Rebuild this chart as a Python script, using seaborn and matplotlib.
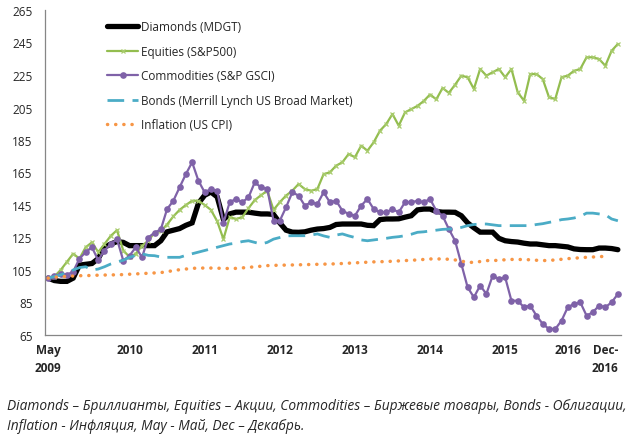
import numpy as np
import pandas as pd
import matplotlib
matplotlib.use("Agg")
import matplotlib.pyplot as plt
import seaborn as sns

# ---------------- data (monthly, May 2009 .. Dec 2016) ----------------
months = pd.date_range("2009-05-01", "2016-12-01", freq="MS")

diamonds = [100, 98.5, 98, 98, 100, 108, 108.5, 109, 112, 119,
            121, 122.5, 122, 120, 120, 120, 120, 120, 123, 128.5,
            129.5, 130.5, 132.5, 134, 146, 151, 153, 150, 136, 139.5,
            140.6, 140.6, 140.6, 140, 139.5, 139.5, 139.2, 134, 129.5, 128.3,
            128.2, 128.5, 129.5, 130.2, 130.5, 131.2, 133, 133.3, 133.3, 133.3,
            133.3, 132.5, 132.3, 136, 136.4, 136.4, 136.5, 137.5, 138.4, 142,
            142.5, 142.5, 141, 140.6, 140.6, 140.5, 138.4, 134, 131, 128.3,
            128.3, 128.3, 124.5, 123, 122.5, 122.2, 121.5, 121, 121, 120.5,
            120, 120, 119.6, 119.2, 118, 117.6, 117.5, 117.5, 118.5, 118.5,
            118.2, 117.5]

equities = [100, 101, 105, 110, 115, 112, 119, 122, 116, 121,
            126, 129.5, 117, 113, 115, 120, 123, 128, 129, 133,
            138, 142, 145, 147.6, 147.6, 145, 142, 135, 124, 137.5,
            136.4, 137.5, 143, 148, 151, 153.8, 142, 146.7, 150.8, 153.8,
            157.9, 154.8, 153.8, 154.8, 164, 165.1, 169.2, 171.3, 176.4, 174.4,
            181.5, 178.4, 183.6, 190.7, 194.8, 201, 193.8, 202, 204, 206,
            209, 213, 210, 217, 214, 219, 224.6, 223.6, 216.4, 228.7,
            224.6, 226.7, 228.7, 223.6, 228.7, 214.4, 209.2, 225.6, 225.6, 222.5,
            211.3, 210.2, 223.6, 224.6, 227.6, 228.7, 235.9, 235.9, 234.8, 230.7,
            239.9, 244.1]

commodities = [100, 101.5, 102.5, 102, 104, 112, 116, 119, 111, 117,
               121, 124, 110.8, 113.8, 119, 112.8, 125, 128, 130, 142.5,
               147.6, 155.9, 164, 171.3, 160, 152.8, 154.8, 153.8, 134, 146.7,
               148.7, 146.7, 149.7, 158.9, 155.9, 155, 135.3, 135.3, 143.6, 152.8,
               150.8, 144.6, 146.7, 145.6, 152.8, 146.7, 147.6, 141.5, 139.5, 138.4,
               144.6, 148.7, 142.5, 140.5, 140.5, 142.5, 140.5, 146.7, 146.7, 147.6,
               146.7, 148.7, 141.5, 138.4, 130.2, 123, 108.7, 94.4, 88.2, 95.4,
               90.3, 101.5, 99.5, 100.5, 86.1, 86.1, 82.1, 83.1, 76.9, 71.8,
               68.7, 68.7, 73.8, 82.1, 84.1, 85.1, 76.9, 79, 83.1, 82.1,
               85.1, 90.2]

bonds = [100, 101, 102, 103.5, 105, 106.5, 107, 105, 105.6, 107,
         108.7, 110, 111, 112.8, 114, 115, 114, 113.8, 113, 112.8,
         112.8, 112.8, 114, 115, 116, 117, 118, 119, 120, 121,
         121.5, 122.5, 123, 122, 121, 122, 124, 125, 126, 126.1,
         126.1, 126.1, 126.5, 127.2, 126, 125.1, 126.5, 127.2, 126, 125,
         123.5, 123, 123.5, 124, 124.5, 125.1, 125.5, 126.1, 127, 128.2,
         128.5, 129, 129.5, 130, 130.2, 130.5, 131.2, 132.3, 133, 133.3,
         133.3, 132.8, 132.3, 132.3, 132.3, 132.3, 132.3, 132.3, 133, 133.5,
         134.3, 135, 136, 136.4, 137, 138, 140, 140, 139.5, 139,
         136.4, 135.3]

inflation = [100, 100.5, 101, 101, 101.3, 101.5, 101.5, 101.7, 101.8, 101.9,
             102, 102, 102.2, 102.4, 102.6, 102.8, 103, 103.2, 103.4, 104,
             104.6, 105.2, 105.6, 106, 106.2, 106.2, 106.2, 106.1, 106, 105.9,
             106, 106.3, 106.6, 107, 107.3, 107.7, 107.8, 108, 108, 108.1,
             108.2, 108.3, 108.4, 108.5, 108.6, 108.7, 108.8, 109, 109.2, 109.4,
             109.6, 109.8, 110, 110.1, 110.2, 110.4, 110.6, 110.8, 111, 111.2,
             111.5, 111.8, 111.8, 111.8, 111.6, 111.2, 110.5, 109.7, 109.7, 110.2,
             110.8, 110.8, 111, 111.3, 111.5, 111.5, 111.4, 111.3, 111, 110.8,
             110.9, 111.2, 111.6, 112, 112.2, 112.6, 112.8, 113, 113.2, 113.4,
             np.nan, np.nan]

series_labels = ["Diamonds (MDGT)", "Equities (S&P500)", "Commodities (S&P GSCI)",
                 "Bonds (Merrill Lynch US Broad Market)", "Inflation (US CPI)"]

x_labels = ["May\n2009", "2010", "2011", "2012", "2013", "2014", "2015", "2016", "Dec-\n2016"]
x_label_months = ["2009-05", "2010-06", "2011-06", "2012-06", "2013-06",
                  "2014-06", "2015-06", "2016-04", "2016-10"]
y_ticks = [65, 85, 105, 125, 145, 165, 185, 205, 225, 245, 265]

caption_1 = ("Diamonds – Бриллианты, Equities – Акции, Commodities – Биржевые товары, "
             "Bonds - Облигации,")
caption_2 = "Inflation - Инфляция, May - Май, Dec – Декабрь."

# ---------------- figure ----------------
sns.set_theme(style="white")
plt.rcParams['font.family'] = ['Open Sans', 'DejaVu Sans']

df = pd.DataFrame({
    "idx": np.arange(len(months)),
    "diamonds": diamonds,
    "equities": equities,
    "commodities": commodities,
    "bonds": bonds,
    "inflation": inflation,
})

fig = plt.figure(figsize=(6.39, 4.39), dpi=100)
ax = fig.add_axes([45 / 639, 103 / 439, 576 / 639, 325 / 439])

sns.lineplot(data=df, x="idx", y="diamonds", ax=ax, color="black", lw=3.8,
             label=series_labels[0], solid_joinstyle="miter")
sns.lineplot(data=df, x="idx", y="equities", ax=ax, color="#93BD4F", lw=1.6,
             marker="x", markersize=3.5, markeredgewidth=0.9,
             markeredgecolor="#A9CC6E", label=series_labels[1])
sns.lineplot(data=df, x="idx", y="commodities", ax=ax, color="#7F62A8", lw=1.6,
             marker="o", markersize=4.8, markeredgewidth=0,
             markeredgecolor="#7F62A8", label=series_labels[2])
sns.lineplot(data=df, x="idx", y="bonds", ax=ax, color="#4BACC6", lw=2.0,
             linestyle=(0, (6, 3)), label=series_labels[3])
sns.lineplot(data=df, x="idx", y="inflation", ax=ax, color="#F79646", lw=2.5,
             linestyle=(0, (0.05, 2.3)), dash_capstyle="round",
             label=series_labels[4])

ax.set_xlim(-0.5, len(months) - 0.5)
ax.set_ylim(65, 265)
ax.set_xlabel("")
ax.set_ylabel("")

# y axis
ax.set_yticks(y_ticks)
ax.tick_params(axis="y", direction="out", length=4, width=0.8, color="#868686",
               labelsize=8.5, labelcolor="#262626", pad=5)

# x axis: tick marks at year boundaries, labels placed separately
month_index = {m.strftime("%Y-%m"): i for i, m in enumerate(months)}
boundaries = [month_index[f"{y}-05"] - 0.5 for y in range(2010, 2017)]
ax.set_xticks(boundaries)
ax.set_xticklabels([""] * len(boundaries))
ax.tick_params(axis="x", which="major", direction="inout", length=5, width=0.8,
               color="#868686")
ax.set_xticks([month_index[m] for m in x_label_months], minor=True)
ax.set_xticklabels(x_labels, minor=True, fontweight="bold", fontsize=8.5,
                   color="#262626", linespacing=1.5)
ax.tick_params(axis="x", which="minor", length=0, pad=6)

for side in ["top", "right"]:
    ax.spines[side].set_visible(False)
for side in ["left", "bottom"]:
    ax.spines[side].set_color("#868686")
    ax.spines[side].set_linewidth(0.9)
ax.grid(False)

leg = ax.legend(loc="upper left", bbox_to_anchor=(0.108, 0.968), frameon=False,
                fontsize=8.5, handlelength=2.6, handletextpad=0.25,
                labelspacing=0.97, borderaxespad=0, borderpad=0)
for t in leg.get_texts():
    t.set_color("#262626")

fig.text(7 / 639, 1 - 407 / 439, caption_1, style="italic", fontsize=9.9,
         va="center", ha="left", color="#262626")
fig.text(7 / 639, 1 - 427 / 439, caption_2, style="italic", fontsize=9.9,
         va="center", ha="left", color="#262626")

fig.savefig("out.png", dpi=100)
